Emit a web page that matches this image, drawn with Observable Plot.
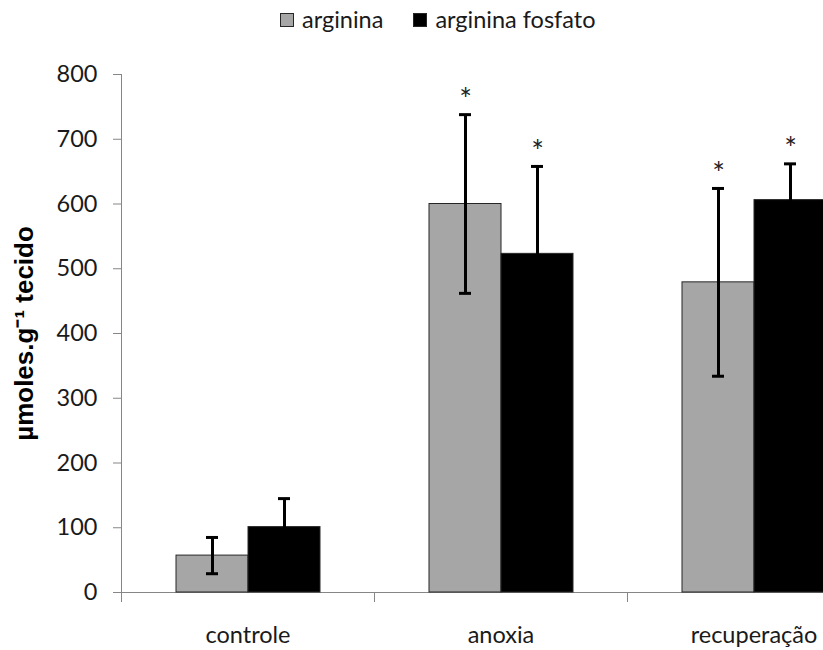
<!DOCTYPE html>
<html><head><meta charset="utf-8">
<script src="https://cdn.jsdelivr.net/npm/d3@7"></script>
<script src="https://cdn.jsdelivr.net/npm/@observablehq/plot@0.6"></script>
<style>
html,body{margin:0;padding:0;background:#fff;overflow:hidden}
#wrap{position:relative;width:823px;height:650px;overflow:hidden;background:#fff}
#legend{position:relative;height:40px;font-family:Lato,sans-serif;font-size:23.5px;color:#1a1a1a}
#legend .row{position:absolute;left:280px;top:0;height:40px;display:flex;align-items:center;gap:30px}
#legend .item{display:flex;align-items:center;gap:8px}
#legend .sw{width:14px;height:14px;box-sizing:border-box;border:1px solid #262626}
#legend .lab{position:relative;top:-1px;white-space:nowrap}
</style></head><body><div id="wrap"><div id="legend"></div><div id="chart"></div></div>
<script>
// ---- data ----
const categories = ["controle", "anoxia", "recuperação"];
const series = ["arginina", "arginina fosfato"];
const argininaMean = [57, 600, 479];
const argininaErr = [28, 138, 145];
const fosfatoMean = [101, 523, 606];
const fosfatoErr = [44, 135, 56];
const argininaStar = [false, true, true];
const fosfatoStar = [false, true, true];
const yTicks = [0, 100, 200, 300, 400, 500, 600, 700, 800];
const yLabel = "µmoles.g⁻¹ tecido";
const seriesColors = ["#a6a6a6", "#000000"];

const rows = [];
categories.forEach((c, i) => {
  rows.push({category: c, series: series[0], mean: argininaMean[i], err: argininaErr[i], star: argininaStar[i]});
  rows.push({category: c, series: series[1], mean: fosfatoMean[i], err: fosfatoErr[i], star: fosfatoStar[i]});
});

// ---- legend ----
const leg = document.getElementById("legend");
const row = document.createElement("div");
row.className = "row";
series.forEach((s, i) => {
  const it = document.createElement("div");
  it.className = "item";
  const sw = document.createElement("div");
  sw.className = "sw";
  sw.style.background = seriesColors[i];
  const lab = document.createElement("span");
  lab.className = "lab";
  lab.textContent = s;
  it.appendChild(sw); it.appendChild(lab);
  row.appendChild(it);
});
leg.appendChild(row);

// ---- chart ----
const W = 823, H = 610;
const mL = 121, mR = -57, mT = 34, mB = 58;
const bw = (W - mL - mR) / categories.length;
const axisGray = "#868686";
const ink = "#1a1a1a";

const chart = Plot.plot({
  width: W, height: H,
  marginLeft: mL, marginRight: mR, marginTop: mT, marginBottom: mB,
  style: {fontFamily: "Lato, sans-serif", fontSize: "23.5px", color: ink, background: "#fff"},
  fx: {domain: categories, padding: 0, axis: null},
  x: {domain: series, paddingInner: 0, paddingOuter: 0.733, axis: null},
  y: {domain: [0, 800], axis: null},
  color: {domain: series, range: seriesColors},
  marks: [
    Plot.ruleY([0], {stroke: axisGray, strokeWidth: 1.2}),
    Plot.barY(rows, {fx: "category", x: "series", y: "mean", fill: "series", stroke: "#262626", strokeWidth: 1}),
    Plot.ruleX(rows, {fx: "category", x: "series", y1: d => d.mean - d.err, y2: d => d.mean + d.err, stroke: "#000", strokeWidth: 3}),
    Plot.tickY(rows, {fx: "category", x: "series", y: d => d.mean - d.err, insetLeft: 30, insetRight: 30, stroke: "#000", strokeWidth: 3}),
    Plot.tickY(rows, {fx: "category", x: "series", y: d => d.mean + d.err, insetLeft: 30, insetRight: 30, stroke: "#000", strokeWidth: 3}),
    Plot.text(rows.filter(d => d.star), {fx: "category", x: "series", y: d => d.mean + d.err, text: () => "*", dy: -14, fontSize: 30, fill: "#222"}),
    Plot.frame({anchor: "left", stroke: axisGray, facetAnchor: "left"}),
    Plot.axisY({ticks: yTicks, tickSize: 8, tickPadding: 16, stroke: axisGray, fill: ink, label: null}),
    Plot.axisY({ticks: [], tickSize: 0, label: yLabel, labelAnchor: "center", labelArrow: "none", labelOffset: 107,
      fontWeight: "bold", fontFamily: "Liberation Sans, Arial, sans-serif", fontSize: 26, fill: "#000"}),
    Plot.axisFx({anchor: "bottom", tickSize: 0, tickPadding: 34, label: null, fill: ink}),
    Plot.axisFx({anchor: "bottom", tickSize: 10, tickFormat: () => "", dx: -bw / 2, stroke: axisGray, label: null})
  ]
});
document.getElementById("chart").appendChild(chart);
</script>
</body></html>
